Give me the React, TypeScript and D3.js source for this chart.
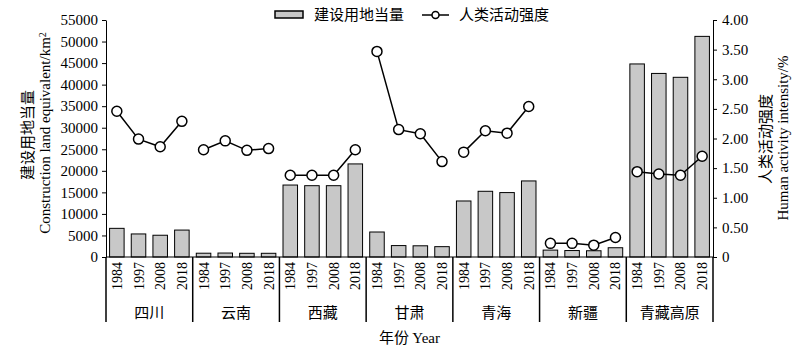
import React, { useEffect, useRef } from "react";
import * as d3 from "d3";

// regions and survey years
const regions = ["四川", "云南", "西藏", "甘肃", "青海", "新疆", "青藏高原"];
const years = ["1984", "1997", "2008", "2018"];

// construction land equivalent (km2), one row per region
const landValues = [
  [6650, 5350, 5050, 6250],
  [880, 920, 860, 860],
  [16700, 16550, 16550, 21600],
  [5800, 2650, 2600, 2400],
  [13000, 15250, 14950, 17650],
  [1600, 1500, 1450, 2150],
  [44800, 42600, 41700, 51200],
];

// human activity intensity (%)
const intensityValues = [
  [2.46, 1.99, 1.86, 2.29],
  [1.81, 1.96, 1.8, 1.83],
  [1.38, 1.38, 1.38, 1.81],
  [3.47, 2.15, 2.08, 1.61],
  [1.77, 2.13, 2.09, 2.54],
  [0.23, 0.23, 0.2, 0.33],
  [1.44, 1.4, 1.38, 1.7],
];

const leftTicks = [0, 5000, 10000, 15000, 20000, 25000, 30000, 35000, 40000, 45000, 50000, 55000];
const rightTicks = [0, 0.5, 1, 1.5, 2, 2.5, 3, 3.5, 4];

const serif = "'Liberation Serif', 'Times New Roman', serif";
const cjk = "'Noto Sans CJK SC', sans-serif";

const App = () => {
  const svgRef = useRef<SVGSVGElement>(null);

  useEffect(() => {
    const svg = d3.select(svgRef.current);
    svg.selectAll("*").remove();

    const margin = { top: 20, right: 87, bottom: 95, left: 106 };
    const W = 800;
    const H = 352;
    const width = W - margin.left - margin.right;
    const height = H - margin.top - margin.bottom;

    const g = svg.append("g").attr("transform", `translate(${margin.left},${margin.top})`);

    // flatten into one band per region/year
    const rows = regions.flatMap((r, i) =>
      years.map((y, j) => ({ key: `${r}-${y}`, region: r, ri: i, year: y, land: landValues[i][j], inten: intensityValues[i][j] }))
    );

    const x = d3.scaleBand().domain(rows.map((d) => d.key)).range([0, width]).paddingInner(0.33).paddingOuter(0.165);
    const yL = d3.scaleLinear().domain([0, 55000]).range([height, 0]);
    const yR = d3.scaleLinear().domain([0, 4]).range([height, 0]);
    const step = x.step();

    // bars
    g.selectAll(".bar")
      .data(rows)
      .enter()
      .append("rect")
      .attr("x", (d) => x(d.key)!)
      .attr("y", (d) => yL(d.land))
      .attr("width", x.bandwidth())
      .attr("height", (d) => height - yL(d.land))
      .attr("fill", "#c8c8c8")
      .attr("stroke", "#000")
      .attr("stroke-width", 1);

    // lines, one per region
    const line = d3
      .line<any>()
      .x((d) => x(d.key)! + x.bandwidth() / 2)
      .y((d) => yR(d.inten));
    regions.forEach((r) => {
      const pts = rows.filter((d) => d.region === r);
      g.append("path").datum(pts).attr("d", line).attr("fill", "none").attr("stroke", "#000").attr("stroke-width", 1.5);
    });
    g.selectAll(".pt")
      .data(rows)
      .enter()
      .append("circle")
      .attr("cx", (d) => x(d.key)! + x.bandwidth() / 2)
      .attr("cy", (d) => yR(d.inten))
      .attr("r", 5)
      .attr("fill", "#fff")
      .attr("stroke", "#000")
      .attr("stroke-width", 1.5);

    // left axis
    const ax = g
      .append("g")
      .call(d3.axisLeft(yL).tickValues(leftTicks).tickFormat(d3.format("d")).tickSize(4).tickPadding(4).tickSizeOuter(0));
    ax.selectAll("text").style("font-family", serif).style("font-size", "15px").attr("fill", "#000");
    ax.selectAll("line,path").attr("stroke", "#000");

    // right axis
    const ar = g
      .append("g")
      .attr("transform", `translate(${width},0)`)
      .call(
        d3
          .axisRight(yR)
          .tickValues(rightTicks)
          .tickFormat((d) => (+d === 0 ? "0" : d3.format(".2f")(+d)))
          .tickSize(4)
          .tickPadding(5)
          .tickSizeOuter(0)
      );
    ar.selectAll("text").style("font-family", serif).style("font-size", "15px").attr("fill", "#000");
    ar.selectAll("line,path").attr("stroke", "#000");

    // bottom baseline
    g.append("line").attr("x1", 0).attr("x2", width).attr("y1", height).attr("y2", height).attr("stroke", "#000");

    // group separators
    const groupW = step * years.length;
    d3.range(regions.length + 1).forEach((i) => {
      g.append("line")
        .attr("x1", i * groupW)
        .attr("x2", i * groupW)
        .attr("y1", height)
        .attr("y2", height + 65)
        .attr("stroke", "#000")
        .attr("stroke-width", 1.5);
    });

    // year labels (rotated)
    g.selectAll(".yr")
      .data(rows)
      .enter()
      .append("text")
      .attr("transform", (d) => `translate(${x(d.key)! + x.bandwidth() / 2 + 5},${height + 5}) rotate(-90)`)
      .attr("text-anchor", "end")
      .style("font-family", serif)
      .style("font-size", "14px")
      .text((d) => d.year);

    // region labels
    g.selectAll(".rg")
      .data(regions)
      .enter()
      .append("text")
      .attr("x", (d, i) => i * groupW + groupW / 2)
      .attr("y", height + 61)
      .attr("text-anchor", "middle")
      .style("font-family", cjk)
      .style("font-size", "15px")
      .text((d) => d);

    // x title
    g.append("text")
      .attr("x", width / 2)
      .attr("y", height + 86)
      .attr("text-anchor", "middle")
      .style("font-size", "15px")
      .call((t) => {
        t.append("tspan").style("font-family", cjk).text("年份 ");
        t.append("tspan").style("font-family", serif).text("Year");
      });

    // left titles
    svg
      .append("text")
      .attr("transform", `translate(33,${margin.top + 115}) rotate(-90)`)
      .attr("text-anchor", "middle")
      .style("font-family", cjk)
      .style("font-size", "15px")
      .text("建设用地当量");
    const lt = svg
      .append("text")
      .attr("transform", `translate(50,${margin.top + 113}) rotate(-90)`)
      .attr("text-anchor", "middle")
      .style("font-family", serif)
      .style("font-size", "15px");
    lt.append("tspan").text("Construction land equivalent/km");
    lt.append("tspan").attr("dy", "-0.4em").style("font-size", "10px").text("2");

    // right titles
    svg
      .append("text")
      .attr("transform", `translate(771,${margin.top + 119}) rotate(-90)`)
      .attr("text-anchor", "middle")
      .style("font-family", cjk)
      .style("font-size", "15px")
      .text("人类活动强度");
    svg
      .append("text")
      .attr("transform", `translate(788,${margin.top + 118}) rotate(-90)`)
      .attr("text-anchor", "middle")
      .style("font-family", serif)
      .style("font-size", "15px")
      .text("Human activity intensity/%");

    // legend
    const lg = svg.append("g");
    lg.append("rect").attr("x", 275).attr("y", 11).attr("width", 28).attr("height", 7).attr("fill", "#c8c8c8").attr("stroke", "#000").attr("stroke-width", 1.5);
    lg.append("text").attr("x", 314).attr("y", 20).style("font-family", cjk).style("font-size", "15px").text("建设用地当量");
    lg.append("line").attr("x1", 422).attr("x2", 449).attr("y1", 15).attr("y2", 15).attr("stroke", "#000").attr("stroke-width", 1.5);
    lg.append("circle").attr("cx", 435.5).attr("cy", 15).attr("r", 3.5).attr("fill", "#fff").attr("stroke", "#000").attr("stroke-width", 1.5);
    lg.append("text").attr("x", 459).attr("y", 20).style("font-family", cjk).style("font-size", "15px").text("人类活动强度");
  }, []);

  return (
    <svg
      ref={svgRef}
      width={800}
      height={352}
      style={{ position: "absolute", left: 0, top: 0, background: "#fff" }}
    ></svg>
  );
};

export default App;
